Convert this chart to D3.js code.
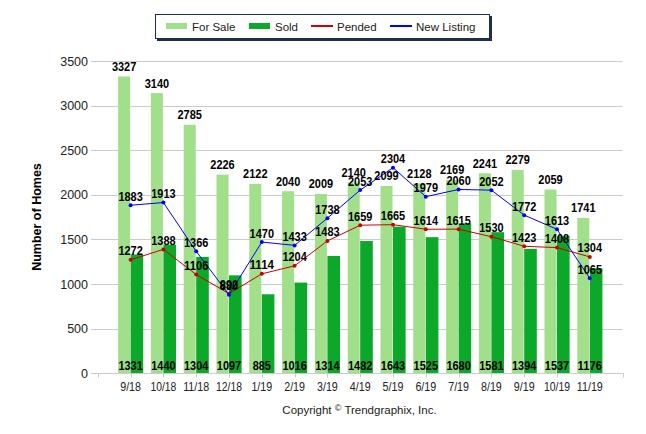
<!DOCTYPE html>
<html><head><meta charset="utf-8">
<script src="https://cdn.jsdelivr.net/npm/d3@7"></script>
<style>body{margin:0;background:#fff}svg text{font-family:"Liberation Sans",Arial,sans-serif}</style>
</head><body><svg id="c" width="646" height="434"></svg>
<script>
const categories = ["9/18","10/18","11/18","12/18","1/19","2/19","3/19","4/19","5/19","6/19","7/19","8/19","9/19","10/19","11/19"];
const forSale = [3327,3140,2785,2226,2122,2040,2009,2140,2099,2128,2169,2241,2279,2059,1741];
const sold = [1331,1440,1304,1097,885,1016,1314,1482,1643,1525,1680,1581,1394,1537,1176];
const pended = [1272,1388,1106,892,1114,1204,1483,1659,1665,1614,1615,1530,1423,1408,1304];
const newListing = [1883,1913,1366,880,1470,1433,1738,2053,2304,1979,2060,2052,1772,1613,1065];
const yTicks = [0,500,1000,1500,2000,2500,3000,3500];

const C = {light:"#a2df8a", dark:"#0ba82a", red:"#cc0000", blue:"#0000ff", grid:"#cccccc", text:"#222"};
const svg = d3.select("#c");
const x = d3.scaleLinear().domain([0,16]).range([97.8,622.6]);
const y = d3.scaleLinear().domain([0,3500]).range([373.2,61]);
const cx = i => x(i+1);

svg.append("g").selectAll("line").data(yTicks.filter(d=>d>0)).join("line")
  .attr("x1",91).attr("x2",622.6).attr("y1",d=>Math.round(y(d))+0.5).attr("y2",d=>Math.round(y(d))+0.5)
  .attr("stroke",C.grid).attr("stroke-width",1);
svg.append("g").selectAll("text").data(yTicks).join("text")
  .attr("x",88).attr("y",d=>y(d)+4.5).attr("text-anchor","end")
  .attr("font-size","12.5px").attr("fill",C.text).text(d=>d);

svg.append("g").selectAll("rect").data(forSale).join("rect")
  .attr("x",(d,i)=>cx(i)-12.5).attr("width",12).attr("y",d=>y(d)).attr("height",d=>y(0)-y(d)).attr("fill",C.light);
svg.append("g").selectAll("rect").data(sold).join("rect")
  .attr("x",(d,i)=>cx(i)).attr("width",12.6).attr("y",d=>y(d)).attr("height",d=>y(0)-y(d)).attr("fill",C.dark);

const ax = svg.append("g");
ax.append("line").attr("x1",91).attr("x2",622.6).attr("y1",373.5).attr("y2",373.5).attr("stroke",C.grid);
ax.selectAll("line.t").data(d3.range(0,17)).join("line").attr("class","t")
  .attr("x1",d=>Math.round(x(d))+0.5).attr("x2",d=>Math.round(x(d))+0.5).attr("y1",373).attr("y2",377.5).attr("stroke",C.grid);
ax.selectAll("text").data(categories).join("text")
  .attr("x",(d,i)=>cx(i)).attr("y",391).attr("text-anchor","middle")
  .attr("font-size","12.5px").attr("fill",C.text)
  .attr("textLength",d=>d.length*5.2).attr("lengthAdjust","spacingAndGlyphs").text(d=>d);

function series(data,color){
  const g = svg.append("g");
  g.append("path").datum(data).attr("fill","none").attr("stroke",color).attr("stroke-width",1)
    .attr("d",d3.line().x((d,i)=>cx(i)).y(d=>y(d)));
  g.selectAll("circle").data(data).join("circle").attr("cx",(d,i)=>cx(i)).attr("cy",d=>y(d)).attr("r",2).attr("fill",color);
}
series(pended,C.red);
series(newListing,C.blue);

const lab = svg.append("g").attr("font-size","12.5px").attr("font-weight","bold").attr("fill","#000").attr("text-anchor","middle");
function labels(cls,data,fx,fy){
  lab.selectAll("text."+cls).data(data).join("text").attr("class",cls)
    .attr("x",fx).attr("y",fy)
    .attr("textLength",d=>String(d).length*6.1).attr("lengthAdjust","spacingAndGlyphs").text(d=>d);
}
labels("fs",forSale,(d,i)=>cx(i)-6.5,d=>y(d)-5.5);
labels("so",sold,(d,i)=>cx(i),369.5);
labels("pe",pended,(d,i)=>cx(i),d=>y(d)-4.5);
labels("nl",newListing,(d,i)=>cx(i),d=>y(d)-4.5);

svg.append("text").attr("transform","translate(41,217) rotate(-90)").attr("text-anchor","middle")
  .attr("font-size","12.5px").attr("font-weight","bold").attr("fill","#000").text("Number of Homes");

const cp = svg.append("text").attr("x",359.5).attr("y",414).attr("text-anchor","middle").attr("font-size","11.5px").attr("fill",C.text);
cp.append("tspan").text("Copyright ");
cp.append("tspan").attr("font-size","9px").attr("dy",-3).text("©");
cp.append("tspan").attr("dy",3).text(" Trendgraphix, Inc.");

const lg = svg.append("g");
lg.append("rect").attr("x",157).attr("y",16).attr("width",335).attr("height",25).attr("fill","#1e2f4d");
lg.append("rect").attr("x",155.5).attr("y",14.5).attr("width",334).attr("height",24).attr("fill","#fff").attr("stroke","#1e2f4d");
const items = [{n:"For Sale",t:"rect",c:C.light,x:166},{n:"Sold",t:"rect",c:C.dark,x:249},{n:"Pended",t:"line",c:C.red,x:311},{n:"New Listing",t:"line",c:C.blue,x:390}];
items.forEach(it=>{
  if(it.t==="rect") lg.append("rect").attr("x",it.x).attr("y",23).attr("width",21).attr("height",6).attr("fill",it.c);
  else lg.append("line").attr("x1",it.x).attr("x2",it.x+22).attr("y1",26).attr("y2",26).attr("stroke",it.c).attr("stroke-width",2);
  lg.append("text").attr("x",it.x+26).attr("y",30.5).attr("font-size","11.5px").attr("fill",C.text).text(it.n);
});
</script></body></html>
